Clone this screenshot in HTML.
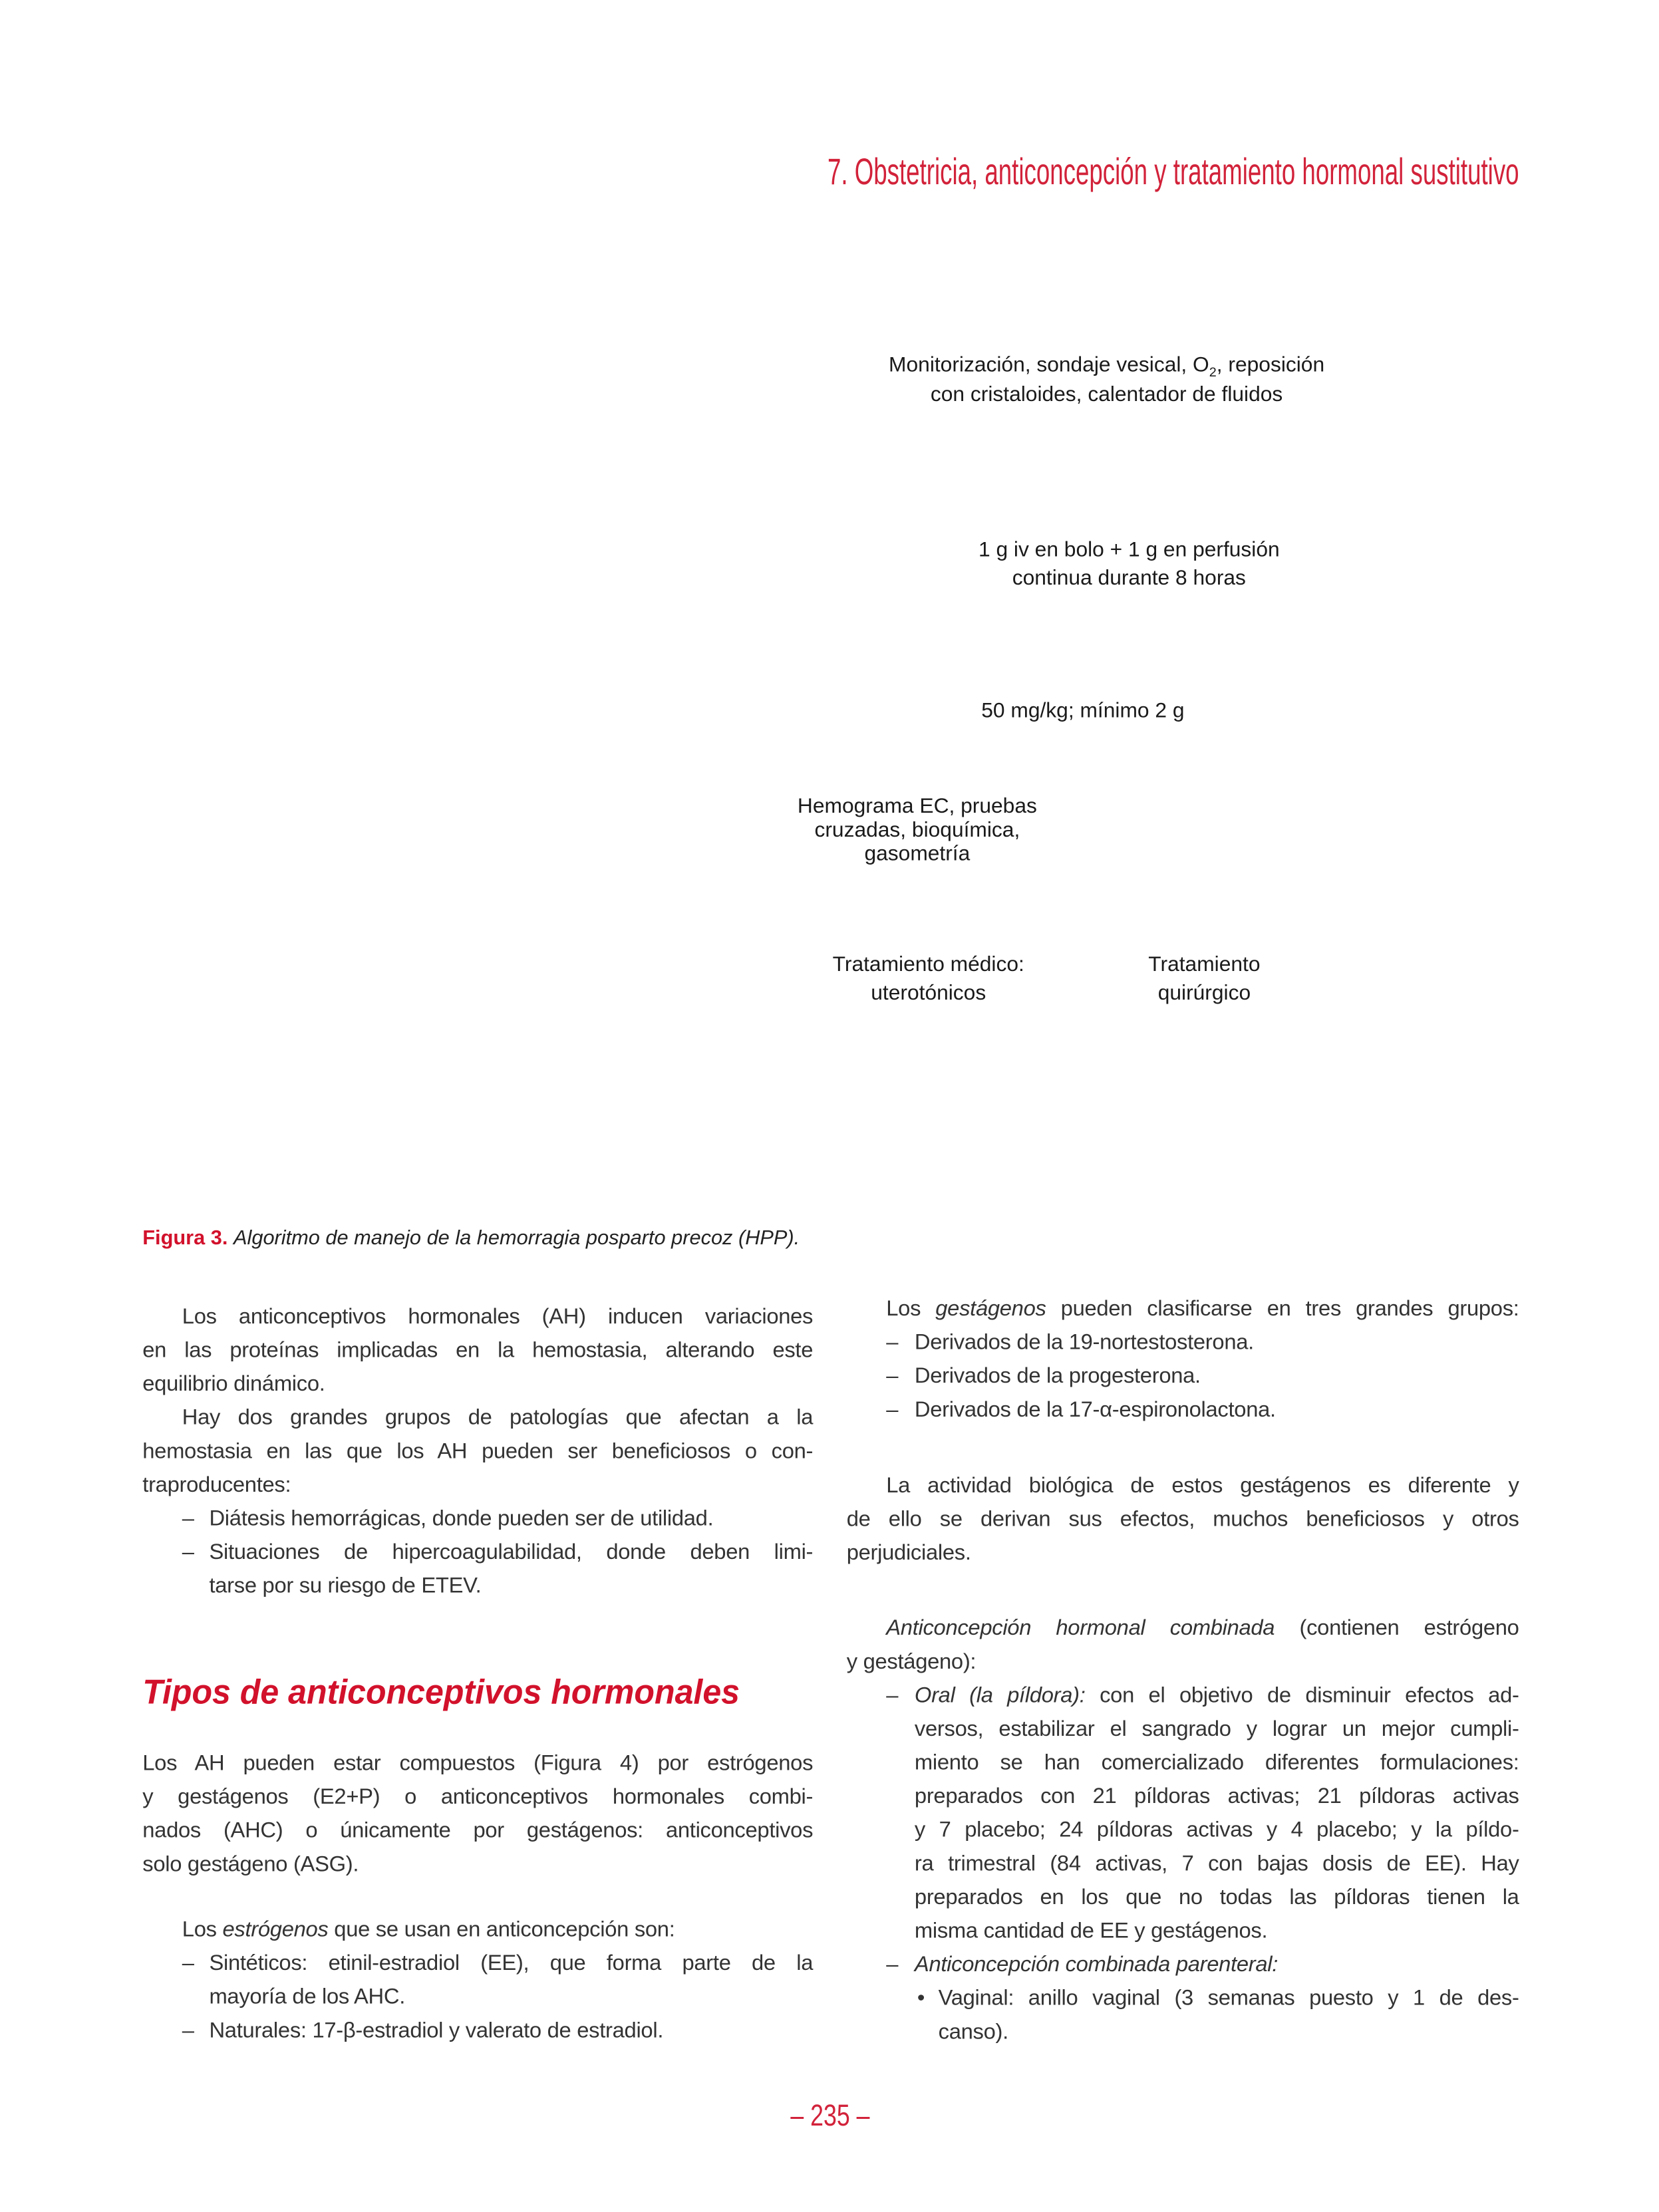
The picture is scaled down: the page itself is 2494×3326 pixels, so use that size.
<!DOCTYPE html>
<html><head><meta charset="utf-8">
<style>
body{margin:0;width:2494px;height:3326px;background:#fff;position:relative;overflow:hidden;font-family:"Liberation Sans",sans-serif;color:#2b2b2b}
#w{position:absolute;left:0;top:0;width:2514px;height:3353px;transform:scale(0.992);transform-origin:0 0}
.b{position:absolute;font-size:33px;letter-spacing:-0.3px;color:#333}
.b div{height:51px;line-height:51px;white-space:nowrap;position:relative}
.j{text-align:justify;text-align-last:justify}
.ind{padding-left:60px}
.d{padding-left:101px}
.d::before{content:"–";position:absolute;left:60px}
.r .d{padding-left:103px}
.r .d::before{left:60px}
.c{padding-left:101px}
.r .c{padding-left:103px}
.bu{padding-left:139px}
.bu::before{content:"•";position:absolute;left:107px}
.bc{padding-left:139px}
.f{position:absolute;font-size:32px;color:#1a1a1a;text-align:center;white-space:nowrap;transform:translateX(-50%)}
.f div{height:43px;line-height:43px}
</style></head><body>
<div id="w">
<svg style="position:absolute;left:0;top:0" width="2514" height="3353">
<text x="1254" y="279" font-family="Liberation Sans Narrow, Liberation Sans, sans-serif" font-size="56" fill="#d2223a" textLength="1048" lengthAdjust="spacingAndGlyphs">7. Obstetricia, anticoncepción y tratamiento hormonal sustitutivo</text>
<text x="216" y="2582" font-family="Liberation Sans, sans-serif" font-size="52" font-weight="bold" font-style="italic" fill="#d2112b" textLength="905" lengthAdjust="spacingAndGlyphs">Tipos de anticonceptivos hormonales</text>
<text x="1258" y="3222" text-anchor="middle" font-family="Liberation Sans Narrow, Liberation Sans, sans-serif" font-size="46" fill="#d2223a" textLength="120" lengthAdjust="spacingAndGlyphs">– 235 –</text>
</svg>

<div class="f" style="left:1677px;top:534px">Monitorización, sondaje vesical, O<sub style="font-size:20px">2</sub>, reposición</div>
<div class="f" style="left:1677px;top:579px">con cristaloides, calentador de fluidos</div>
<div class="f" style="left:1711px;top:814px">1 g iv en bolo + 1 g en perfusión</div>
<div class="f" style="left:1711px;top:857px">continua durante 8 horas</div>
<div class="f" style="left:1641px;top:1058px">50 mg/kg; mínimo 2 g</div>
<div class="f" style="left:1390px;top:1203px;line-height:36px">Hemograma EC, pruebas<br>cruzadas, bioquímica,<br>gasometría</div>
<div class="f" style="left:1407px;top:1443px">Tratamiento médico:</div>
<div class="f" style="left:1407px;top:1486px">uterotónicos</div>
<div class="f" style="left:1825px;top:1443px">Tratamiento</div>
<div class="f" style="left:1825px;top:1486px">quirúrgico</div>

<div style="position:absolute;left:216px;top:1858px;font-size:31px;white-space:nowrap;color:#222"><b style="color:#d2112b">Figura 3.</b> <i>Algoritmo de manejo de la hemorragia posparto precoz (HPP).</i></div>

<div class="b" style="left:216px;top:1969px;width:1016px">
<div class="j ind">Los anticonceptivos hormonales (AH) inducen variaciones</div>
<div class="j">en las proteínas implicadas en la hemostasia, alterando este</div>
<div>equilibrio dinámico.</div>
<div class="j ind">Hay dos grandes grupos de patologías que afectan a la</div>
<div class="j">hemostasia en las que los AH pueden ser beneficiosos o con-</div>
<div>traproducentes:</div>
<div class="d">Diátesis hemorrágicas, donde pueden ser de utilidad.</div>
<div class="d j">Situaciones de hipercoagulabilidad, donde deben limi-</div>
<div class="c">tarse por su riesgo de ETEV.</div>
</div>

<div class="b" style="left:216px;top:2646px;width:1016px">
<div class="j">Los AH pueden estar compuestos (Figura 4) por estrógenos</div>
<div class="j">y gestágenos (E2+P) o anticonceptivos hormonales combi-</div>
<div class="j">nados (AHC) o únicamente por gestágenos: anticonceptivos</div>
<div>solo gestágeno (ASG).</div>
</div>

<div class="b" style="left:216px;top:2898px;width:1016px">
<div class="ind">Los <i>estrógenos</i> que se usan en anticoncepción son:</div>
<div class="d j">Sintéticos: etinil-estradiol (EE), que forma parte de la</div>
<div class="c">mayoría de los AHC.</div>
<div class="d">Naturales: 17-β-estradiol y valerato de estradiol.</div>
</div>

<div class="b r" style="left:1283px;top:1957px;width:1019px">
<div class="j ind">Los <i>gestágenos</i> pueden clasificarse en tres grandes grupos:</div>
<div class="d">Derivados de la 19-nortestosterona.</div>
<div class="d">Derivados de la progesterona.</div>
<div class="d">Derivados de la 17-α-espironolactona.</div>
</div>

<div class="b r" style="left:1283px;top:2225px;width:1019px">
<div class="j ind">La actividad biológica de estos gestágenos es diferente y</div>
<div class="j">de ello se derivan sus efectos, muchos beneficiosos y otros</div>
<div>perjudiciales.</div>
</div>

<div class="b r" style="left:1283px;top:2441px;width:1019px">
<div class="j ind"><i>Anticoncepción hormonal combinada</i> (contienen estrógeno</div>
<div>y gestágeno):</div>
<div class="d j"><i>Oral (la píldora):</i> con el objetivo de disminuir efectos ad-</div>
<div class="c j">versos, estabilizar el sangrado y lograr un mejor cumpli-</div>
<div class="c j">miento se han comercializado diferentes formulaciones:</div>
<div class="c j">preparados con 21 píldoras activas; 21 píldoras activas</div>
<div class="c j">y 7 placebo; 24 píldoras activas y 4 placebo; y la píldo-</div>
<div class="c j">ra trimestral (84 activas, 7 con bajas dosis de EE). Hay</div>
<div class="c j">preparados en los que no todas las píldoras tienen la</div>
<div class="c">misma cantidad de EE y gestágenos.</div>
<div class="d"><i>Anticoncepción combinada parenteral:</i></div>
<div class="bu j">Vaginal: anillo vaginal (3 semanas puesto y 1 de des-</div>
<div class="bc">canso).</div>
</div>
</div>
</body></html>
